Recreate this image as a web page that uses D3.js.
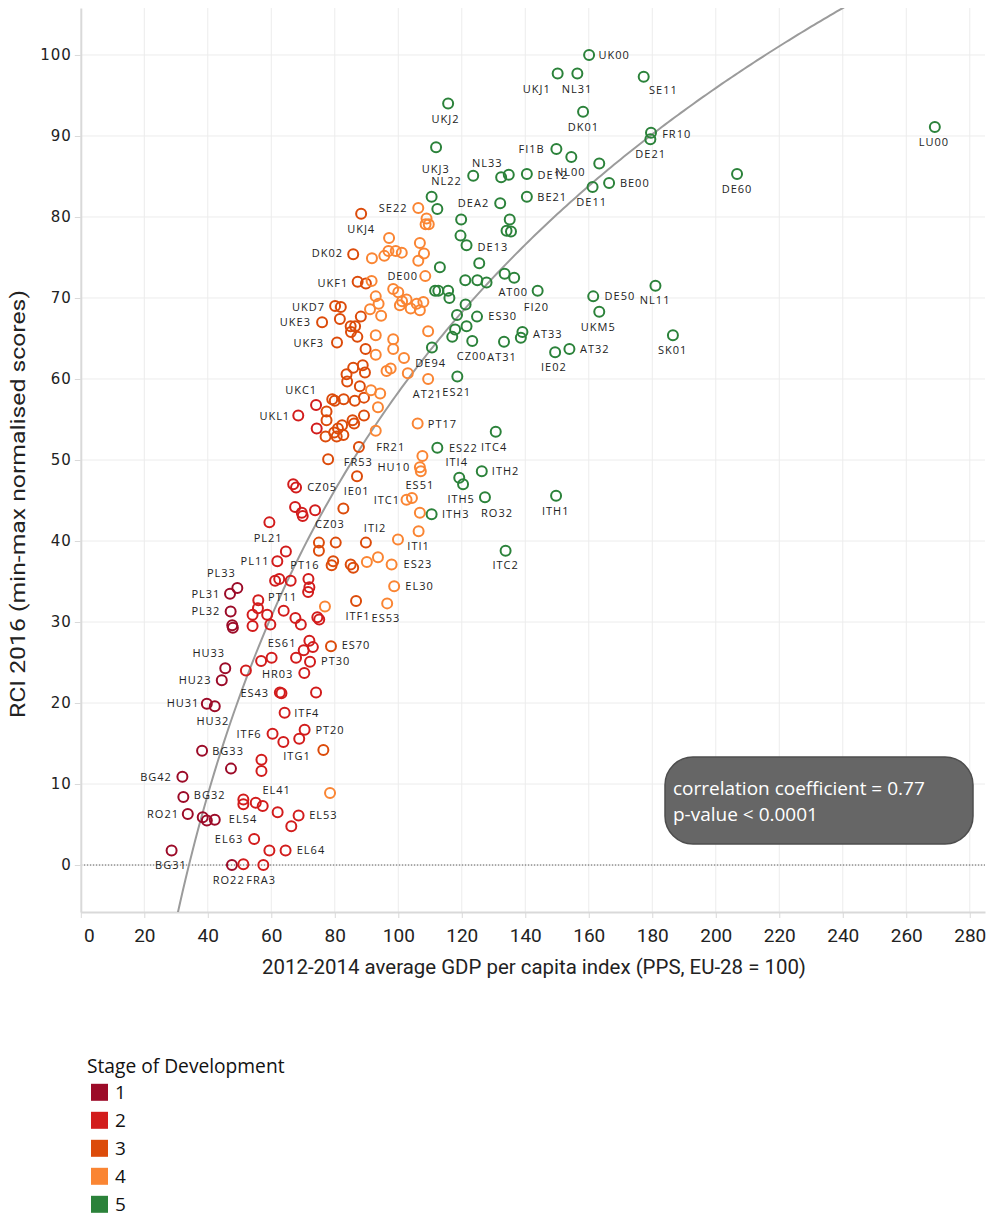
<!DOCTYPE html>
<html><head><meta charset="utf-8">
<script src="https://cdn.jsdelivr.net/npm/d3@7"></script>
<style>body{margin:0;background:#fff}svg{display:block}</style>
</head><body><div id="chart"></div>
<script>
// ---------------- DATA ----------------
const stageNames = ["1", "2", "3", "4", "5"];
const xTicks = [0,20,40,60,80,100,120,140,160,180,200,220,240,260,280];
const yTicks = [0,10,20,30,40,50,60,70,80,90,100];
// logarithmic fit y = a + b*ln(x)
const trendCoef = [-191.2, 54.19];
const stat1 = "correlation coefficient = 0.77";
const stat2 = "p-value < 0.0001";

// [GDP index, RCI]
const stage1 = [[39.7,19.9],[42.2,19.6],[38.2,14.1],[47.3,11.9],[32.0,10.9],[32.3,8.4],[33.7,6.3],[38.4,5.9],[39.7,5.5],[42.2,5.6],[28.6,1.8],[47.6,0.0],[49.3,34.2],[47.0,33.5],[47.2,31.3],[47.7,29.6],[47.9,29.3],[45.5,24.3],[44.4,22.8]];
const stage2 = [[64.2,18.8],[60.4,16.2],[63.8,15.2],[70.5,16.7],[68.8,15.6],[56.9,13.0],[56.9,11.6],[51.2,8.1],[51.2,7.5],[55.1,7.7],[57.3,7.3],[62.0,6.5],[68.6,6.1],[66.3,4.8],[54.6,3.2],[59.4,1.8],[64.5,1.8],[51.2,0.1],[57.5,0.0],[67.5,44.2],[69.6,43.5],[69.9,43.1],[73.8,43.8],[59.4,42.3],[61.9,37.5],[64.6,38.7],[61.2,35.1],[62.5,35.3],[66.1,35.1],[71.7,35.3],[72.0,34.3],[71.6,33.7],[55.9,32.7],[55.8,31.7],[54.1,30.9],[58.7,30.9],[63.9,31.4],[67.6,30.5],[69.3,29.7],[74.5,30.6],[75.1,30.3],[54.1,29.5],[59.7,29.7],[72.0,27.7],[73.1,26.9],[70.2,26.5],[67.8,25.6],[72.2,25.1],[52.0,24.0],[56.8,25.2],[60.1,25.6],[70.4,23.7],[62.7,21.3],[63.2,21.2],[74.1,21.3],[74.1,56.8],[68.5,55.5],[74.3,53.9],[66.9,47.0],[67.8,46.6]];
const stage3 = [[76.4,14.2],[78.8,27.0],[82.7,44.0],[75.0,39.8],[80.3,39.8],[75.0,38.8],[89.8,39.8],[79.5,37.5],[79.0,37.0],[85.0,37.1],[85.8,36.7],[86.7,32.6],[80.7,64.5],[85.1,65.8],[87.1,65.2],[89.7,63.7],[85.8,61.4],[88.8,61.7],[83.7,60.6],[89.5,60.8],[83.9,59.7],[87.9,59.1],[79.2,57.5],[80.0,57.3],[82.8,57.5],[86.3,57.3],[89.2,57.7],[77.4,56.0],[77.4,54.9],[85.6,54.9],[86.1,54.5],[89.2,55.5],[81.0,53.9],[82.3,54.3],[79.8,53.4],[82.7,53.1],[77.1,52.9],[80.6,52.9],[87.6,51.6],[77.9,50.1],[87.0,48.0],[88.3,80.4],[85.8,75.4],[87.2,72.0],[89.8,71.8],[80.1,69.0],[81.9,68.9],[76.0,67.0],[81.6,67.4],[88.2,67.7],[85.0,66.5],[86.4,66.5]];
const stage4 = [[78.5,8.9],[76.9,31.9],[96.5,32.3],[98.7,34.4],[97.9,37.1],[93.6,38.0],[90.1,37.4],[99.9,40.2],[106.4,41.2],[106.8,43.5],[102.6,45.1],[104.3,45.3],[106.8,49.1],[107.1,48.6],[107.6,50.5],[106.1,54.5],[92.9,53.6],[109.4,60.0],[93.6,56.5],[91.4,58.6],[94.3,58.2],[96.3,61.0],[97.6,61.3],[103.0,60.7],[101.8,62.6],[92.9,63.0],[98.4,63.7],[92.9,65.4],[98.4,64.9],[109.4,65.9],[106.3,81.1],[108.9,79.8],[108.6,79.1],[109.6,79.1],[97.1,77.4],[106.8,76.8],[108.1,75.5],[106.3,74.6],[96.9,75.8],[99.2,75.8],[101.1,75.6],[95.6,75.2],[91.7,74.9],[108.5,72.7],[91.6,72.1],[98.4,71.1],[100.0,70.7],[92.9,70.2],[101.2,69.6],[102.6,69.8],[105.8,69.3],[107.9,69.5],[106.8,68.5],[103.9,68.7],[100.5,69.1],[93.8,69.3],[91.1,68.6],[94.6,67.8]];
const stage5 = [[160.1,100.0],[150.2,97.7],[156.4,97.7],[177.3,97.3],[115.7,94.0],[158.2,93.0],[179.6,90.4],[179.4,89.6],[111.9,88.6],[149.8,88.4],[154.5,87.4],[163.3,86.6],[123.6,85.1],[132.4,84.9],[134.8,85.2],[140.5,85.3],[166.4,84.2],[161.2,83.7],[206.7,85.3],[269.0,91.1],[110.5,82.5],[112.3,81.0],[140.5,82.5],[132.1,81.7],[119.8,79.7],[135.1,79.7],[119.6,77.7],[121.5,76.5],[134.1,78.3],[135.5,78.2],[125.5,74.3],[113.1,73.8],[121.1,72.2],[124.9,72.2],[127.8,71.9],[133.5,73.0],[136.5,72.5],[143.9,70.9],[111.6,70.9],[112.6,70.9],[115.7,70.9],[116.1,70.0],[121.2,69.2],[118.5,67.9],[124.8,67.7],[121.5,66.5],[117.9,66.1],[117.0,65.2],[123.3,64.7],[110.6,63.9],[133.3,64.6],[139.1,65.8],[138.6,65.1],[118.6,60.3],[161.4,70.2],[163.3,68.3],[181.0,71.5],[186.5,65.4],[149.4,63.3],[153.9,63.7],[112.3,51.5],[130.7,53.5],[126.3,48.6],[119.2,47.8],[120.4,47.0],[127.3,45.4],[149.7,45.6],[110.5,43.3],[133.8,38.8]];

// region labels: [code, GDP index, RCI] (label centre)
const regionLabels = [["UK00",168.0,100.0],["UKJ1",143.6,95.8],["NL31",156.3,95.8],["SE11",183.5,95.7],["UKJ2",114.9,92.1],["DK01",158.3,91.1],["FR10",187.7,90.2],["DE21",179.5,87.8],["LU00",268.7,89.3],["UKJ3",111.8,85.9],["FI1B",142.0,88.4],["NL33",128.0,86.7],["NL22",115.2,84.4],["DE12",148.7,85.2],["NL00",154.2,85.5],["BE00",174.5,84.2],["DE11",160.9,81.9],["BE21",148.5,82.5],["DEA2",123.7,81.7],["DE60",206.7,83.5],["SE22",98.4,81.1],["UKJ4",88.3,78.5],["DE13",129.8,76.3],["DK02",77.7,75.5],["DE00",101.4,72.7],["UKF1",79.4,71.9],["AT00",136.2,70.7],["FI20",143.5,68.9],["DE50",169.8,70.2],["NL11",180.9,69.7],["ES30",132.9,67.8],["UKD7",71.7,68.9],["UKE3",67.6,67.0],["UKM5",163.0,66.4],["SK01",186.4,63.6],["AT33",147.1,65.6],["UKF3",71.8,64.4],["AT32",161.9,63.7],["CZ00",123.1,62.8],["AT31",132.7,62.7],["DE94",110.2,62.0],["IE02",149.0,61.5],["AT21",109.2,58.2],["ES21",118.4,58.4],["UKC1",69.4,58.6],["UKL1",61.1,55.4],["PT17",113.9,54.5],["FR21",97.6,51.6],["ES22",120.5,51.5],["ITC4",130.2,51.6],["ITI4",118.4,49.8],["FR53",87.4,49.8],["HU10",98.6,49.1],["ITH2",133.8,48.6],["CZ05",76.0,46.7],["IE01",86.9,46.2],["ES51",106.8,46.9],["ITC1",96.4,45.1],["ITH5",119.8,45.2],["RO32",131.1,43.5],["ITH1",149.6,43.7],["ITH3",118.1,43.3],["CZ03",78.5,42.1],["PL21",59.0,40.4],["ITI2",92.7,41.6],["ITI1",106.4,39.4],["ITC2",133.8,37.0],["PL11",54.9,37.5],["PT16",70.6,37.0],["ES23",106.2,37.2],["PL33",44.3,36.0],["EL30",106.7,34.4],["PL31",39.4,33.5],["PT11",63.6,33.1],["ITF1",87.3,30.7],["ES53",96.1,30.5],["PL32",39.4,31.3],["ES61",63.4,27.4],["ES70",86.7,27.1],["HU33",40.3,26.2],["PT30",80.3,25.2],["HR03",62.0,23.6],["HU23",36.0,22.8],["ES43",54.8,21.2],["HU31",32.2,20.0],["HU32",41.6,17.8],["ITF4",71.2,18.8],["ITF6",53.0,16.2],["PT20",78.5,16.7],["ITG1",68.1,13.4],["BG33",46.4,14.1],["BG42",23.7,10.9],["EL41",61.7,9.2],["BG32",40.6,8.6],["RO21",25.9,6.3],["EL54",51.1,5.7],["EL53",76.4,6.2],["EL63",46.7,3.2],["EL64",72.5,1.8],["BG31",28.4,0.0],["RO22",46.6,-1.9],["FRA3",56.8,-1.9]];

// ---------------- DRAW ----------------
const W = 987, H = 1216;
const colors = ["#9c0b28", "#d21c1c", "#dc4b0a", "#fa8533", "#2b823a"];
const narrow = "'Liberation Sans Narrow','Arial Narrow','Roboto',sans-serif";
const stages = [stage1, stage2, stage3, stage4, stage5];
const svg = d3.select("#chart").append("svg").attr("width", W).attr("height", H);
const x = d3.scaleLinear().domain([0, 284.8]).range([80.8, 985]);
const y = d3.scaleLinear().domain([-5.8, 105.8]).range([912, 8]);
const pTop = 8, pBottom = 912, pLeft = 80.8, pRight = 985;

// grid
svg.append("g").selectAll("line").data(xTicks.slice(1)).join("line")
  .attr("x1", d => x(d)).attr("x2", d => x(d)).attr("y1", pTop).attr("y2", pBottom)
  .attr("stroke", "#ececec").attr("stroke-width", 1);
svg.append("g").selectAll("line").data(yTicks.slice(1)).join("line")
  .attr("x1", pLeft).attr("x2", pRight).attr("y1", d => y(d)).attr("y2", d => y(d))
  .attr("stroke", "#ececec").attr("stroke-width", 1);
// zero line
svg.append("line").attr("x1", pLeft).attr("x2", pRight).attr("y1", y(0)).attr("y2", y(0))
  .attr("stroke", "#555").attr("stroke-width", 1).attr("stroke-dasharray", "1.5,1.5");

// axes
const xAxis = svg.append("g").attr("transform", `translate(0,${pBottom})`)
  .call(d3.axisBottom(x).tickValues(xTicks).tickSize(6).tickPadding(11).tickSizeOuter(0));
xAxis.select(".domain").attr("stroke", "#d9d9d9").attr("stroke-width", 2);
xAxis.selectAll(".tick line").attr("stroke", "#d9d9d9");
xAxis.selectAll(".tick text").attr("font-family", narrow)
  .attr("font-size", 19).attr("fill", "#222")
  .attr("dx", d => d === 0 ? 8 : 0);

const yAxis = svg.append("g").attr("transform", `translate(${pLeft},0)`)
  .call(d3.axisLeft(y).tickValues(yTicks).tickSize(6).tickPadding(3).tickSizeOuter(0));
yAxis.select(".domain").attr("stroke", "#d9d9d9").attr("stroke-width", 2);
yAxis.selectAll(".tick line").attr("stroke", "#d9d9d9");
yAxis.selectAll(".tick text").attr("font-family", "'DejaVu Sans',sans-serif")
  .attr("font-size", 15).attr("letter-spacing", 1).attr("fill", "#222");

// axis titles
svg.append("text").attr("x", 534).attr("y", 974).attr("text-anchor", "middle")
  .attr("font-family", narrow).attr("font-size", 20).attr("fill", "#222")
  .attr("textLength", 544).attr("lengthAdjust", "spacingAndGlyphs")
  .text("2012-2014 average GDP per capita index (PPS, EU-28 = 100)");
svg.append("text").attr("transform", "translate(25,504) rotate(-90)").attr("text-anchor", "middle")
  .attr("font-family", narrow).attr("font-size", 20).attr("fill", "#222")
  .attr("textLength", 428).attr("lengthAdjust", "spacingAndGlyphs")
  .text("RCI 2016 (min-max normalised scores)");

// trend curve
svg.append("clipPath").attr("id", "plotclip").append("rect")
  .attr("x", pLeft).attr("y", pTop).attr("width", pRight - pLeft).attr("height", pBottom - pTop);
const trendXs = d3.range(28, 260, 1);
svg.append("path").attr("clip-path", "url(#plotclip)")
  .datum(trendXs)
  .attr("d", d3.line().x(d => x(d)).y(d => y(trendCoef[0] + trendCoef[1] * Math.log(d))))
  .attr("fill", "none").attr("stroke", "#9b9b9b").attr("stroke-width", 2);

// points
stages.forEach((pts, i) => {
  svg.append("g").selectAll("circle").data(pts).join("circle")
    .attr("cx", d => x(d[0])).attr("cy", d => y(d[1])).attr("r", 5)
    .attr("fill", "none").attr("stroke", colors[i]).attr("stroke-width", 2);
});

// labels
svg.append("g").selectAll("text").data(regionLabels).join("text")
  .attr("x", d => x(d[1])).attr("y", d => y(d[2])).attr("dy", "0.36em")
  .attr("text-anchor", "middle").attr("font-family", "'Open Sans',sans-serif")
  .attr("font-size", 11).attr("letter-spacing", 1).attr("fill", "#222")
  .text(d => d[0]);

// stats box
svg.append("rect").attr("x", 665).attr("y", 757).attr("width", 308).attr("height", 87)
  .attr("rx", 28).attr("ry", 28).attr("fill", "#666").attr("stroke", "#4d4d4d").attr("stroke-width", 1.5);
svg.append("text").attr("x", 673).attr("y", 795).attr("font-family", "'Open Sans',sans-serif")
  .attr("font-size", 19).attr("fill", "#fff").text(stat1);
svg.append("text").attr("x", 673).attr("y", 821).attr("font-family", "'Open Sans',sans-serif")
  .attr("font-size", 19).attr("fill", "#fff").text(stat2);

// legend
const lg = svg.append("g");
lg.append("text").attr("x", 87).attr("y", 1073).attr("font-family", "'Open Sans',sans-serif")
  .attr("font-size", 19.2).attr("fill", "#111").text("Stage of Development");
const items = lg.selectAll("g.item").data(stageNames).join("g").attr("class", "item")
  .attr("transform", (d, i) => `translate(91,${1092.3 + 28 * i})`);
items.append("rect").attr("x", 0).attr("y", -8.5).attr("width", 17).attr("height", 17)
  .attr("fill", (d, i) => colors[i]);
items.append("text").attr("x", 24).attr("y", 0).attr("dy", "0.36em")
  .attr("font-family", "'Open Sans',sans-serif").attr("font-size", 19).attr("fill", "#111").text(d => d);
</script></body></html>
